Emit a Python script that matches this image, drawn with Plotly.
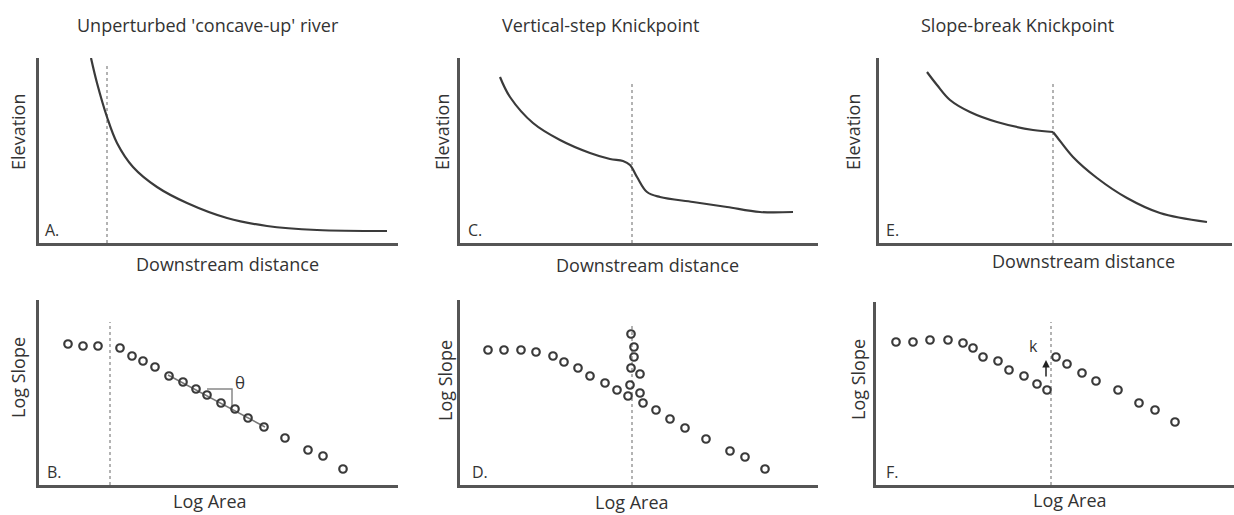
import plotly.graph_objects as go

# ---------------- data (schematic units) ----------------
titles = ["Unperturbed 'concave-up' river", "Vertical-step Knickpoint", "Slope-break Knickpoint"]
top_ylabel = "Elevation"
top_xlabel = "Downstream distance"
bot_ylabel = "Log Slope"
bot_xlabel = "Log Area"
panel_labels = ["A.", "C.", "E.", "B.", "D.", "F."]

# A: unperturbed elevation profile
A_x = [52, 58, 68, 78, 94, 118, 148, 188, 228, 278, 348]
A_y = [185, 160, 126, 100, 76, 56, 40, 25, 17, 13, 12]
A_knick = 68

# C: vertical-step knickpoint
C_x = [40, 50, 73, 100, 130, 150, 163, 170, 177, 187, 200, 233, 267, 300, 333]
C_y = [166, 146, 120, 103, 90, 84, 82, 78, 66, 51, 46, 41, 36, 31, 31]
C_knick = 172

# E: slope-break knickpoint (upstream and downstream reaches)
E_up_x = [48, 58, 71, 91, 118, 154, 174]
E_up_y = [171, 158, 143, 131, 121, 113, 111]
E_dn_x = [174, 178, 194, 218, 248, 281, 328]
E_dn_y = [111, 106, 86, 65, 45, 30, 21]
E_knick = 174

# B: slope-area, unperturbed
B_x = [29, 44, 59, 81, 93, 104, 116, 130, 144, 157, 168, 182, 196, 209, 225, 246, 269, 284, 304]
B_y = [141, 139, 139, 137, 129, 124, 118, 109, 103, 96, 90, 82, 76, 67, 58, 47, 35, 29, 16]
B_fit_x = [129, 226]
B_fit_y = [110, 58]
B_tri_x = [168, 193, 193]
B_tri_y = [96, 96, 77]
B_knick = 71

# D: slope-area, vertical step
D_x = [28, 44, 61, 76, 93, 104, 118, 130, 145, 157, 168, 170, 171, 174, 174, 171,
       180, 180, 183, 196, 210, 225, 246, 270, 285, 305]
D_y = [135, 135, 135, 133, 129, 123, 117, 109, 102, 95, 89, 100, 117, 128, 138, 151,
       111, 92, 82, 75, 66, 57, 46, 34, 28, 16]
D_knick = 172

# F: slope-area, slope break
F_x = [20, 37, 54, 72, 87, 97, 107, 122, 133, 148, 161, 171,
       180, 191, 206, 220, 242, 263, 279, 299]
F_y = [143, 143, 145, 145, 142, 137, 128, 124, 115, 109, 101, 95,
       128, 121, 112, 104, 95, 82, 75, 63]
F_arrow_x = [170, 170]
F_arrow_y = [107, 125]
F_knick = 175

# ---------------- layout (pixel boxes of the six panels) ----------------
W, H = 1234, 515
# (left, right, top, bottom) in pixels
boxes = [
    (39, 398, 58, 243),
    (460, 818, 58, 243),
    (879, 1232, 58, 243),
    (39, 398, 300, 485),
    (460, 818, 300, 485),
    (876, 1234, 302, 485),
]

INK = "#3a3a3a"
AXC = "#555555"
DOT = "#9a9a9a"
TXT = "#333333"
FONT = "Open Sans"

fig = go.Figure()
layout = dict(
    width=W, height=H, margin=dict(l=0, r=0, t=0, b=0),
    paper_bgcolor="white", plot_bgcolor="white", showlegend=False,
    font=dict(family=FONT, color=TXT),
)

for i, (l, r, t, b) in enumerate(boxes):
    n = "" if i == 0 else str(i + 1)
    common = dict(showgrid=False, zeroline=False, showticklabels=False, ticks="",
                  showline=True, linecolor=AXC, linewidth=2.5, fixedrange=True)
    layout["xaxis" + n] = dict(domain=[l / W, r / W], range=[0, r - l],
                               anchor="y" + n, **common)
    layout["yaxis" + n] = dict(domain=[1 - b / H, 1 - t / H], range=[0, b - t],
                               anchor="x" + n, **common)

fig.update_layout(**layout)


def ax(i):
    n = "" if i == 0 else str(i + 1)
    return "x" + n, "y" + n


def line(i, xs, ys, shape="spline", color=INK, width=2.2, dash=None):
    xa, ya = ax(i)
    fig.add_trace(go.Scatter(x=xs, y=ys, mode="lines", xaxis=xa, yaxis=ya,
                             line=dict(color=color, width=width, shape=shape,
                                       dash=dash, smoothing=1.0 if shape == "spline" else None),
                             hoverinfo="skip", cliponaxis=False))


def dots(i, xs, ys):
    xa, ya = ax(i)
    fig.add_trace(go.Scatter(x=xs, y=ys, mode="markers", xaxis=xa, yaxis=ya,
                             marker=dict(symbol="circle-open", size=7.5, color=INK,
                                         line=dict(width=2.2, color=INK)),
                             hoverinfo="skip", cliponaxis=False))


knick_tops = [180, 160, 161, 163, 162, 163]


def knick(i, xk):
    line(i, [xk, xk], [0, knick_tops[i]], shape="linear", color=DOT, width=1.5, dash="dot")


# knickpoint guide lines
for i, k in enumerate([A_knick, C_knick, E_knick, B_knick, D_knick, F_knick]):
    knick(i, k)

# elevation profiles
line(0, A_x, A_y)
line(1, C_x, C_y)
line(2, E_up_x, E_up_y)
line(2, E_dn_x, E_dn_y)

# slope-area plots
line(3, B_fit_x, B_fit_y, shape="linear", color="#777777", width=1.5)
line(3, B_tri_x, B_tri_y, shape="linear", color="#888888", width=1.5)
dots(3, B_x, B_y)
dots(4, D_x, D_y)
dots(5, F_x, F_y)

C = dict(xanchor="center", yanchor="middle", showarrow=False)
annotations = []
# arrow in F
annotations.append(dict(xref="x6", yref="y6", axref="x6", ayref="y6",
                        x=F_arrow_x[1], y=F_arrow_y[1], ax=F_arrow_x[0], ay=F_arrow_y[0],
                        showarrow=True, arrowhead=2, arrowsize=1, arrowwidth=1.5,
                        arrowcolor="#222222", text=""))
annotations.append(dict(xref="x6", yref="y6", x=157, y=139, text="k",
                        font=dict(size=16, color=TXT), **C))
annotations.append(dict(xref="x4", yref="y4", x=201, y=103, text="θ",
                        font=dict(size=17, color=TXT), **C))

# panel letters
letter_pos = [(13, 13), (15, 13), (13, 13), (16, 13), (20, 13), (16, 13)]
for i, (lab, (lx, ly)) in enumerate(zip(panel_labels, letter_pos)):
    xa, ya = ax(i)
    annotations.append(dict(xref=xa, yref=ya, x=lx, y=ly, text=lab,
                            font=dict(size=16, color=TXT), **C))


def P(x, y):
    return x / W, 1 - y / H


# column titles
for (cx, cy), txt in zip([(208, 25), (600, 25), (1017, 25)], titles):
    px_, py_ = P(cx, cy)
    annotations.append(dict(xref="paper", yref="paper", x=px_, y=py_, text=txt,
                            font=dict(size=18), **C))

# axis titles
for (cx, cy) in [(227, 264), (648, 265), (1083, 261)]:
    px_, py_ = P(cx, cy)
    annotations.append(dict(xref="paper", yref="paper", x=px_, y=py_, text=top_xlabel,
                            font=dict(size=18), **C))
for (cx, cy) in [(210, 501), (632, 502), (1070, 500)]:
    px_, py_ = P(cx, cy)
    annotations.append(dict(xref="paper", yref="paper", x=px_, y=py_, text=bot_xlabel,
                            font=dict(size=18), **C))
for (cx, cy) in [(18, 132), (442, 132), (853, 132)]:
    px_, py_ = P(cx, cy)
    annotations.append(dict(xref="paper", yref="paper", x=px_, y=py_, text=top_ylabel,
                            textangle=-90, font=dict(size=18), **C))
for (cx, cy) in [(18, 378), (445, 380), (858, 380)]:
    px_, py_ = P(cx, cy)
    annotations.append(dict(xref="paper", yref="paper", x=px_, y=py_, text=bot_ylabel,
                            textangle=-90, font=dict(size=18), **C))

fig.update_layout(annotations=annotations)
fig.write_html("out.html", config={"displayModeBar": False},
               post_script="document.body.style.margin='0';document.body.style.overflow='hidden';")
